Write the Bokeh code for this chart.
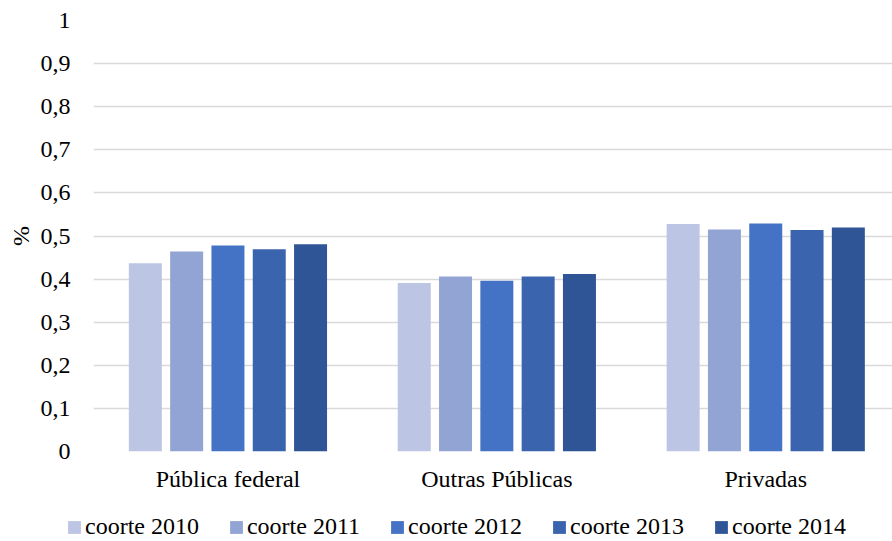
from bokeh.plotting import figure
from bokeh.layouts import column, row
from bokeh.models import Range1d, FixedTicker, CustomJSTickFormatter, Legend, LegendItem, ColumnDataSource
from bokeh.embed import file_html
from bokeh.resources import INLINE

categories = ["Pública federal", "Outras Públicas", "Privadas"]
series_names = ["coorte 2010", "coorte 2011", "coorte 2012", "coorte 2013", "coorte 2014"]
coorte_2010 = [0.437, 0.391, 0.528]
coorte_2011 = [0.464, 0.406, 0.515]
coorte_2012 = [0.478, 0.396, 0.529]
coorte_2013 = [0.469, 0.406, 0.514]
coorte_2014 = [0.481, 0.412, 0.520]
y_ticks = [0, 0.1, 0.2, 0.3, 0.4, 0.5, 0.6, 0.7, 0.8, 0.9, 1.0]
colors = ["#BCC5E3", "#91A4D3", "#4472C4", "#3A64AD", "#2F5597"]

series = [coorte_2010, coorte_2011, coorte_2012, coorte_2013, coorte_2014]
FONT = "Liberation Serif"
FS = "24px"

p = figure(width=892, height=500, output_backend="svg", toolbar_location=None,
           x_range=Range1d(0, 2.9714), y_range=Range1d(0, 1),
           min_border_left=93, min_border_right=0, min_border_top=20, min_border_bottom=49)
p.outline_line_color = None
p.background_fill_color = "white"

centers = [0.5, 1.5, 2.5]
stride = 0.1536
bw = 0.1227
for i, (name, vals, c) in enumerate(zip(series_names, series, colors)):
    xs = [cx + (i - 2) * stride for cx in centers]
    src = ColumnDataSource(dict(x=xs, top=vals))
    p.vbar(x="x", top="top", width=bw, bottom=0, source=src, fill_color=c, line_color=None)

# x axis
p.xaxis.ticker = FixedTicker(ticks=centers)
p.xaxis.major_label_overrides = {0.5: categories[0], 1.5: categories[1], 2.5: categories[2]}
p.xaxis.axis_line_color = None
p.xaxis.major_tick_line_color = None
p.xaxis.minor_tick_line_color = None
p.xaxis.major_label_standoff = 8
p.xaxis.major_label_text_font = FONT
p.xaxis.major_label_text_font_size = FS
p.xaxis.major_label_text_color = "black"

# y axis
p.yaxis.ticker = FixedTicker(ticks=y_ticks)
p.yaxis.formatter = CustomJSTickFormatter(code="""
if (Math.abs(tick) < 1e-9) return '0';
if (Math.abs(tick - 1) < 1e-9) return '1';
return tick.toFixed(1).replace('.', ',');
""")
p.yaxis.axis_line_color = None
p.yaxis.major_tick_line_color = None
p.yaxis.minor_tick_line_color = None
p.yaxis.major_label_standoff = 17
p.yaxis.major_label_text_font = FONT
p.yaxis.major_label_text_font_size = FS
p.yaxis.major_label_text_color = "black"
p.yaxis.axis_label = "%"
p.yaxis.axis_label_text_font = FONT
p.yaxis.axis_label_text_font_size = FS
p.yaxis.axis_label_text_font_style = "normal"
p.yaxis.axis_label_text_color = "black"
p.yaxis.axis_label_standoff = 4

p.xgrid.grid_line_color = None
p.ygrid.ticker = FixedTicker(ticks=y_ticks)
p.ygrid.grid_line_color = "#D9D9D9"
p.ygrid.grid_line_width = 1.5

# legend strip below the chart
lg = figure(width=892, height=41, output_backend="svg", toolbar_location=None,
            x_range=Range1d(0, 1), y_range=Range1d(0, 1),
            x_axis_type=None, y_axis_type=None,
            min_border_left=0, min_border_right=0, min_border_top=0, min_border_bottom=0)
lg.outline_line_color = None
lg.grid.visible = False
items = []
for name, c in zip(series_names, colors):
    r = lg.vbar(x=[0.5], top=[0], bottom=0, width=0.01, fill_color=c, line_color=None)
    items.append(LegendItem(label=name, renderers=[r]))

legend = Legend(items=items, orientation="horizontal", location=(66, 1),
                spacing=29, label_standoff=3, glyph_width=16, glyph_height=16,
                padding=0, margin=0, border_line_color=None, background_fill_alpha=0,
                label_text_font=FONT, label_text_font_size=FS, label_text_color="black",
                label_text_baseline="middle", label_height=16)
lg.add_layout(legend, "center")

open("out.html", "w").write(file_html(column(p, row(lg), spacing=0), INLINE))
